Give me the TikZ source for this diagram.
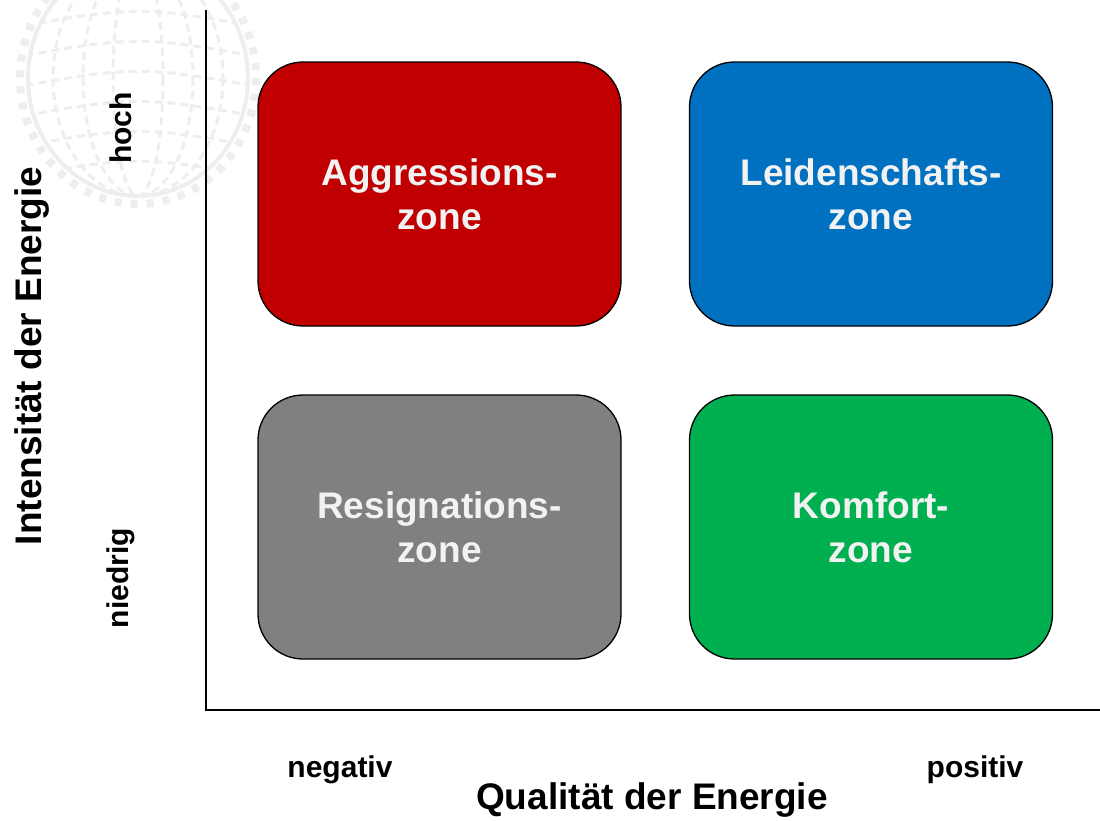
\documentclass[tikz,border=0pt]{standalone}
\usepackage{fontspec}
\setmainfont{Liberation Sans}
\definecolor{zred}{HTML}{C00000}
\definecolor{zblue}{HTML}{0070C0}
\definecolor{zgray}{HTML}{808080}
\definecolor{zgreen}{HTML}{00B050}
\definecolor{ztext}{HTML}{F2F2F2}
\definecolor{globe}{HTML}{EEEEEE}
\tikzset{
  zonebox/.style={draw=black, line width=1.3pt, rounded corners=45pt, minimum width=363pt, minimum height=264pt,
    text=ztext, align=center, font=\fontsize{37}{44}\selectfont\bfseries},
  axlabel/.style={font=\fontsize{37}{44}\selectfont\bfseries, text=black},
  ticklabel/.style={font=\fontsize{30}{36}\selectfont\bfseries, text=black},
  axline/.style={line width=2pt, draw=black},
  globeline/.style={draw=globe, line width=3pt, dash pattern=on 8pt off 5pt}
}
\begin{document}
\begin{tikzpicture}[x=1pt,y=-1pt]
\useasboundingbox (0,0) rectangle (1100,820);
\fill[white] (0,0) rectangle (1100,820);
% faint globe watermark
\begin{scope}
  \clip (138,78) ellipse [x radius=110, y radius=118];
  \foreach \r in {25,55,85} {\draw[globeline] (138,78) ellipse [x radius=\r, y radius=118];}
  \foreach \yy in {0,30,60,90,120,150,180} {\draw[globeline] (0,\yy) .. controls (138,\yy-25) .. (276,\yy);}
\end{scope}
\draw[draw=globe, line width=4pt] (138,78) ellipse [x radius=110, y radius=118];
\draw[draw=globe, line width=8pt, dash pattern=on 7pt off 9pt] (138,78) ellipse [x radius=118, y radius=126];
% axes
\coordinate (top) at (206,10);
\coordinate (origin) at (206,710);
\coordinate (right) at (1100,710);
\draw[axline] (top) -- (origin) -- (right);
% boxes
\node[zonebox, fill=zred] (aggr) at (439.5,194) {Aggressions-\\zone};
\node[zonebox, fill=zblue] (leid) at (871,194) {Leidenschafts-\\zone};
\node[zonebox, fill=zgray] (resi) at (439.5,527) {Resignations-\\zone};
\node[zonebox, fill=zgreen] (komf) at (871,527) {Komfort-\\zone};
% labels
\node[axlabel, rotate=90] (ylab) at (32,356) {Intensität der Energie};
\node[axlabel] (xlab) at (652,800) {Qualität der Energie};
\node[ticklabel, rotate=90] (hoch) at (121,128) {hoch};
\node[ticklabel, rotate=90] (nied) at (121,578) {niedrig};
\node[ticklabel] (neg) at (340,770) {negativ};
\node[ticklabel] (pos) at (975,770) {positiv};
\end{tikzpicture}
\end{document}
